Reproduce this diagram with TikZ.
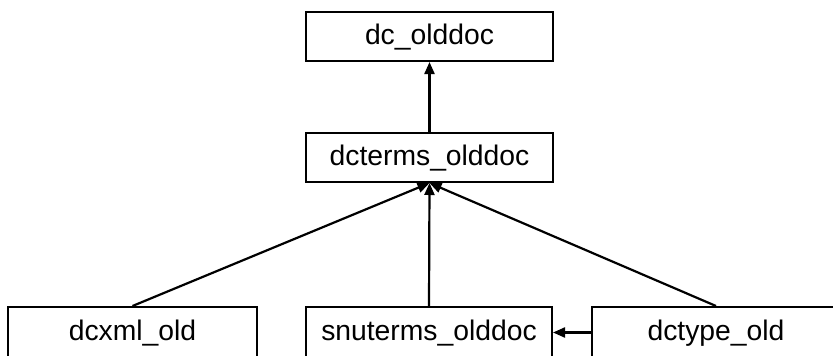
\documentclass[tikz,border=0pt]{standalone}
\usepackage{fontspec}
\setmainfont{Liberation Sans}
\usetikzlibrary{arrows.meta}
\begin{document}
\begin{tikzpicture}[x=1bp,y=-1bp,
  cls/.style={draw=black, line width=2bp, fill=white, minimum width=247bp, minimum height=49bp, inner sep=0pt,
    font=\fontsize{28.4}{32}\selectfont, text height=20bp, text depth=4bp},
  link/.style={draw=black, line width=2.2bp, -{Triangle[length=12bp,width=10bp]}}]
\useasboundingbox (0,0) rectangle (833,355);
\clip (0,0) rectangle (833,355);
\fill[white] (0,0) rectangle (833,355);
\node[cls] (dc) at (429.5,36.5) {dc\_olddoc};
\node[cls] (dcterms) at (429.5,157.5) {dcterms\_olddoc};
\node[cls, minimum width=249bp, minimum height=51bp] (dcxml) at (132.5,332.5) {dcxml\_old};
\node[cls, minimum width=246bp, minimum height=51bp] (snuterms) at (429,332.5) {snuterms\_olddoc};
\node[cls, minimum width=248bp, minimum height=51bp] (dctype) at (716,332.5) {dctype\_old};
\draw[link] (dcterms.north) -- (dc.south);
\draw[link] (dcxml.north) -- (dcterms.south);
\draw[link] (snuterms.north) -- (dcterms.south);
\draw[link] (dctype.north) -- (dcterms.south);
\draw[link] (dctype.west) -- (snuterms.east);
\end{tikzpicture}
\end{document}
